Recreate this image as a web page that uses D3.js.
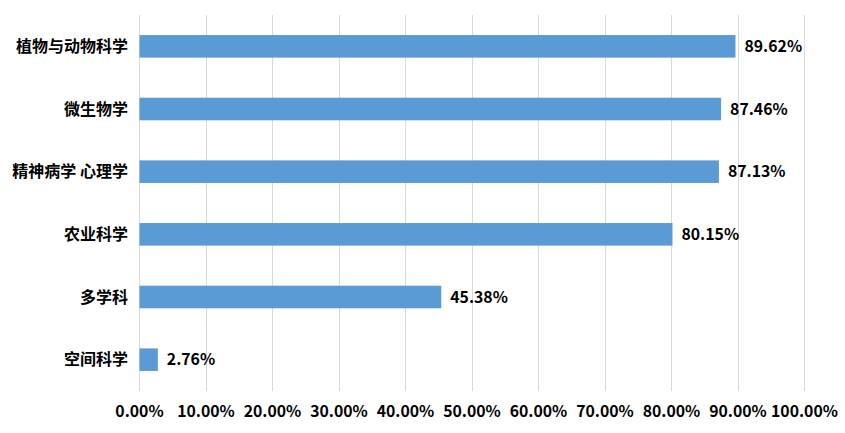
<!DOCTYPE html>
<html><head><meta charset="utf-8">
<script src="https://cdn.jsdelivr.net/npm/d3@7"></script>
<style>body{margin:0;background:#fff}text{font-family:"Noto Sans CJK SC","Noto Sans",sans-serif}</style>
</head><body><svg id="c" width="845" height="433"></svg>
<script>
const categories = ["植物与动物科学","微生物学","精神病学 心理学","农业科学","多学科","空间科学"];
const values = [89.62, 87.46, 87.13, 80.15, 45.38, 2.76];
const tickValues = [0,10,20,30,40,50,60,70,80,90,100];

const svg = d3.select("#c");
const x = d3.scaleLinear().domain([0,100]).range([139.5,804.5]);
const y = d3.scaleBand().domain(categories).range([15,391]).paddingInner(0.64).paddingOuter(0.32);

svg.append("g").selectAll("line").data(tickValues).join("line")
  .attr("x1",d=>x(d)).attr("x2",d=>x(d)).attr("y1",15).attr("y2",391)
  .attr("stroke","#d9d9d9").attr("stroke-width",1).attr("shape-rendering","crispEdges");

svg.append("g").selectAll("rect").data(values).join("rect")
  .attr("x",x(0)).attr("y",(d,i)=>y(categories[i]))
  .attr("width",d=>x(d)-x(0)).attr("height",y.bandwidth())
  .attr("fill","#5B9BD5");

svg.append("g").selectAll("text").data(values).join("text")
  .attr("x",d=>x(d)+9).attr("y",(d,i)=>y(categories[i])+y.bandwidth()/2)
  .attr("dy","0.35em").attr("font-size",15.8).attr("font-weight","bold").attr("fill","#000")
  .text(d=>d.toFixed(2)+"%");

svg.append("g").selectAll("text").data(categories).join("text")
  .attr("x",128).attr("y",d=>y(d)+y.bandwidth()/2).attr("dy","0.35em")
  .attr("text-anchor","end").attr("font-size",16).attr("font-weight","bold").attr("fill","#000")
  .text(d=>d);

svg.append("g").selectAll("text").data(tickValues).join("text")
  .attr("x",d=>x(d)).attr("y",411).attr("dy","0.35em").attr("text-anchor","middle")
  .attr("font-size",15.8).attr("font-weight","bold").attr("fill","#000")
  .text(d=>d.toFixed(2)+"%");
</script></body></html>
